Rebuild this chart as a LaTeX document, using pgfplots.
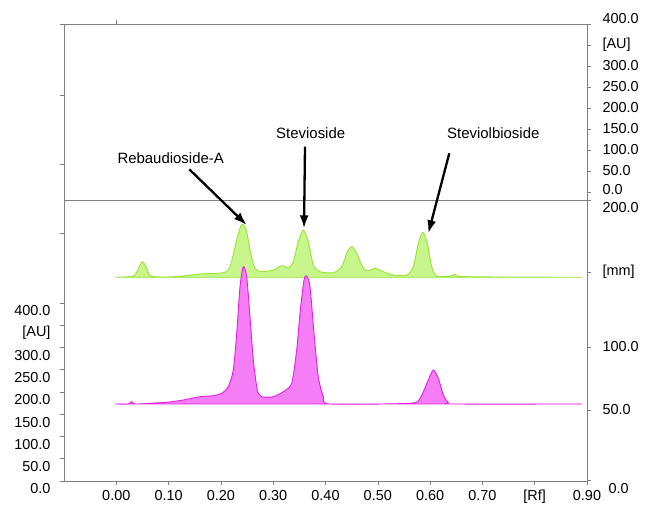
\documentclass[border=0pt]{standalone}
\usepackage{pgfplots}
\pgfplotsset{compat=1.18}
\usepackage{fontspec}
\setmainfont{Liberation Sans}
\usetikzlibrary{arrows.meta}
\definecolor{gline}{RGB}{150,230,50}
\definecolor{gfill}{RGB}{200,245,140}
\definecolor{pline}{RGB}{228,30,228}
\definecolor{pfill}{RGB}{245,125,245}
\definecolor{frame}{RGB}{128,128,128}

\newcommand{\lift}[2]{\raisebox{#1}[\height][\depth]{#2}}

\pgfplotsset{base/.style={
  at={(0,0)}, anchor=south west,
  scale only axis, width=523bp, height=457bp,
  xmin=-0.1, xmax=0.9, ymin=0, ymax=457,
  axis line style={frame, line width=0.8pt},
  tick style={frame, line width=0.6pt},
  tick align=outside, major tick length=4bp,
  ticklabel style={font=\fontsize{14.5}{16}\selectfont},
}}

\begin{document}
\begin{tikzpicture}
\useasboundingbox (-64bp,-24bp) rectangle (582bp,481bp);
% right-hand scales
\begin{axis}[base,
  axis x line=none, ytick pos=right,
  ytick={1,71,134,209,281,289,310,331,352,373,394,415,436,457},
  yticklabels={\lift{-9bp}{\hspace{6bp}0.0},50.0,100.0,[mm],\lift{-8bp}{200.0},
    \lift{2bp}{0.0},50.0,100.0,150.0,200.0,250.0,300.0,[AU],\lift{5bp}{400.0}},
  yticklabel style={anchor=west, xshift=8bp},
]
\end{axis}
% main panel
\begin{axis}[base,
  xtick pos=left, ytick pos=left,
  xtick={0,0.1,0.2,0.3,0.4,0.5,0.6,0.7,0.8,0.9},
  xticklabels={0.00,0.10,0.20,0.30,0.40,0.50,0.60,0.70,[Rf],0.90},
  xticklabel style={yshift=-2bp},
  ytick={0,22.25,44.5,66.75,89,111.25,133.5,155.75,178},
  yticklabels={0.0,50.0,100.0,150.0,200.0,250.0,300.0,[AU],400.0},
  yticklabel style={yshift=-8bp, xshift=-6bp},
  extra y ticks={248,317,386,457},
  extra y tick labels={},
  extra x ticks={0},
  extra x tick labels={},
  extra x tick style={xtick pos=right},
]
% divider and top edge
\draw[frame, line width=0.8pt] (axis cs:-0.1,281) -- (axis cs:0.9,281);
\draw[frame, line width=0.8pt] (axis cs:-0.1,457) -- (axis cs:0.9,457);

% green track
\addplot[gline, line width=0.9pt, fill=gfill, smooth, tension=0.45] coordinates {
(-0.0025,203.7) (0.0262,204.3) (0.0358,206) (0.044,214.3) (0.0505,219.3)
(0.0581,212.7) (0.0658,205) (0.0964,204) (0.1281,205) (0.16,207)
(0.2046,208.3) (0.2174,214.3) (0.227,234.3) (0.2352,251) (0.2417,256.7)
(0.2493,249.3) (0.257,227.7) (0.2652,212.7) (0.278,209.3) (0.3002,211)
(0.3163,215.3) (0.3289,213.3) (0.3384,219.3) (0.348,239.3) (0.3576,251)
(0.3671,239.3) (0.3767,216) (0.3895,209.3) (0.4149,208.3) (0.431,214.3)
(0.4417,229.3) (0.4501,234.3) (0.4597,227.7) (0.4723,212.7) (0.4818,210.3)
(0.4946,212.7) (0.5105,209.3) (0.5296,206) (0.5553,206) (0.5679,214.3)
(0.5774,237.7) (0.5859,248.7) (0.5947,237.7) (0.6031,214.3) (0.6126,205)
(0.638,205) (0.6476,206.5) (0.6572,204.5) (0.7337,204) (0.8904,203.7)
} -- cycle;

% pink track
\addplot[pline, line width=0.9pt, fill=pfill, smooth, tension=0.4] coordinates {
(-0.0025,77) (0.0229,77) (0.0294,79.3) (0.0358,77) (0.0644,77.7)
(0.0964,78.7) (0.1281,81) (0.16,84.3) (0.1855,85.3) (0.2015,87.7)
(0.2141,94.3) (0.2237,111) (0.2302,147.7) (0.2365,194.3) (0.2428,214.3)
(0.2493,204.3) (0.2556,164.3) (0.262,121) (0.2696,91) (0.278,84.3)
(0.3002,84.3) (0.3193,89.3) (0.3354,97.7) (0.3449,131) (0.3512,167.7)
(0.3589,201) (0.3641,205) (0.3704,194.3) (0.378,147.7) (0.3862,104.3)
(0.3958,84.3) (0.4086,77) (0.5616,77.7) (0.5807,82.7) (0.5966,101)
(0.6061,111) (0.6157,102.7) (0.6252,86) (0.6348,78.5) (0.645,77) (0.8904,77)
} -- cycle;

% annotations
\draw[line width=2.3bp, -{Latex[length=13bp,width=9bp]}] (axis cs:0.1396,311.7) -- (axis cs:0.2493,256);
\draw[line width=2.3bp, -{Latex[length=13bp,width=9bp]}] (axis cs:0.3608,334.3) -- (axis cs:0.3589,252.7);
\draw[line width=2.3bp, -{Latex[length=13bp,width=9bp]}] (axis cs:0.6367,327.7) -- (axis cs:0.5966,247.7);
\node[font=\fontsize{15}{17}\selectfont] at (axis cs:0.104,322.7) {Rebaudioside-A};
\node[font=\fontsize{15}{17}\selectfont] at (axis cs:0.3717,348.3) {Stevioside};
\node[font=\fontsize{15}{17}\selectfont] at (axis cs:0.7208,348.3) {Steviolbioside};
\end{axis}
\end{tikzpicture}
\end{document}
